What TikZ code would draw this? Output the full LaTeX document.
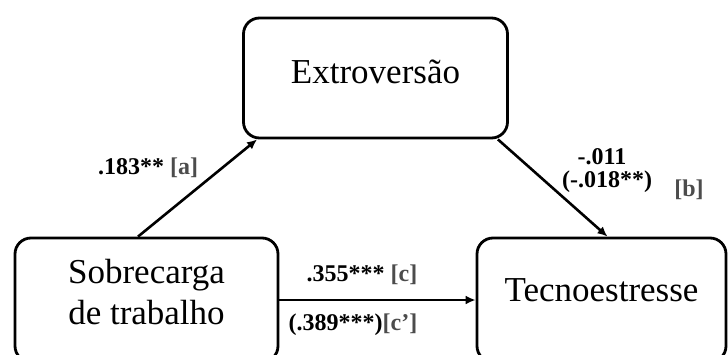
\documentclass[tikz,border=0pt]{standalone}
\usepackage{fontspec}
\setmainfont{Liberation Serif}
\usetikzlibrary{arrows.meta}

\tikzset{
  varbox/.style={draw, line width=1.4pt, rounded corners=8pt, align=center,
    font=\fontsize{17.5}{20.5}\selectfont},
  effect/.style={-{Latex[length=5pt,width=4.5pt]}, line width=1.3pt},
  coef/.style={font=\bfseries\fontsize{12}{14}\selectfont},
}
\newcommand{\pathtag}[1]{\textcolor{black!70}{#1}}

\begin{document}
\begin{tikzpicture}[x=0.5pt, y=-0.5pt]
\useasboundingbox (0,0) rectangle (728,354);
\clip (0,0) rectangle (728,354);

% variables
\node (ext) [varbox, minimum width=132pt, minimum height=60pt,
  text height=12pt, text depth=6.4pt] at (375.5,78) {Extroversão};
\node (sob) [varbox, minimum width=131.5pt, minimum height=62pt,
  text depth=7.7pt] at (146.5,300) {Sobrecarga\\de trabalho};
\node (tec) [varbox, minimum width=124.5pt, minimum height=62pt,
  text height=12pt, text depth=10.4pt] at (601.5,300) {Tecnoestresse};

% paths
\draw[effect] ([xshift=-4.25pt]sob.north) -- ([xshift=7.5pt]ext.south west);
\draw[effect] ([xshift=-5.5pt]ext.south east) -- ([xshift=3pt]tec.north);
\draw[effect] (sob.east) -- (tec.west);

% coefficients
\node (coefa) [coef] at (148,168) {.183**\ \pathtag{[a]}};
\node (coefb1) [coef] at (602,157) {-.011};
\node (coefb2) [coef] at (607,182) {(-.018**)};
\node (tagb) [coef] at (689,190) {\pathtag{[b]}};
\node (coefc1) [coef] at (362,275) {.355***\ \pathtag{[c]}};
\node (coefc2) [coef] at (353,325) {(.389***)\pathtag{[c’]}};
\end{tikzpicture}
\end{document}
